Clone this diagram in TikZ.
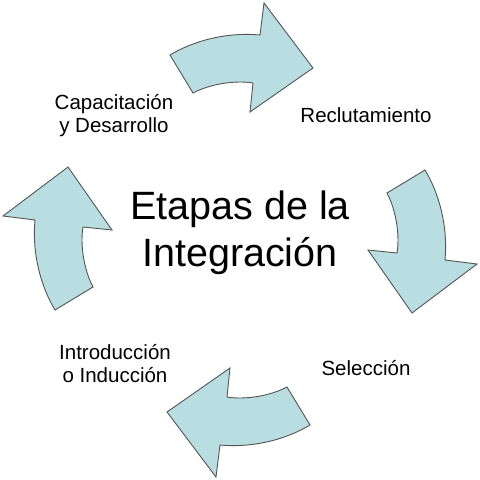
\documentclass[tikz,border=0pt]{standalone}
\usepackage{fontspec}
\setmainfont{Liberation Sans}
\definecolor{arrowfill}{HTML}{B9DEE2}
\definecolor{arrowline}{HTML}{555555}
\tikzset{
  cyclearrow/.style={fill=arrowfill, draw=arrowline, line width=0.9pt, line join=miter},
  steplabel/.style={align=center, inner sep=0pt, font=\fontsize{20.5}{22.5}\selectfont},
  titlelabel/.style={align=center, inner sep=0pt, font=\fontsize{39.5}{47}\selectfont}
}
\begin{document}
\begin{tikzpicture}[x=1pt,y=-1pt]
\useasboundingbox (0,0) rectangle (480,480);
\fill[white] (0,0) rectangle (480,480);
\foreach \k in {0,1,2,3}{
  \draw[cyclearrow, rotate around={-90*\k:(240,240)}]
    (170,55) .. controls (195,40) and (228,32) .. (260,35)
    -- (264,3) -- (313,68) -- (250,112) -- (253,83)
    .. controls (235,80) and (210,84) .. (193,93) -- cycle;
}
\node[titlelabel] (title) at (240,232.3) {Etapas de la\\Integración};
\node[steplabel] (capac) at (114,115.5) {Capacitación\\y Desarrollo};
\node[steplabel, anchor=base] (reclu) at (366,122) {Reclutamiento};
\node[steplabel, anchor=base] (selec) at (366,375) {Selección};
\node[steplabel] (intro) at (115,363.5) {Introducción\\o Inducción};
\end{tikzpicture}
\end{document}
